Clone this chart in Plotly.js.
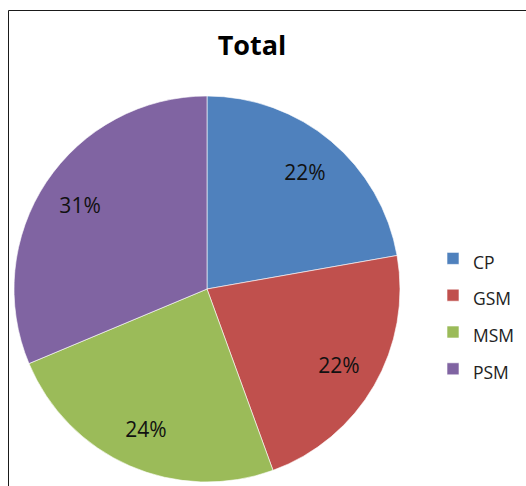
<!DOCTYPE html>
<html>
<head>
<meta charset="utf-8">
<script src="https://cdn.plot.ly/plotly-3.0.1.min.js"></script>
<style>
  html, body { margin: 0; padding: 0; background: #fff; overflow: hidden; }
  #chart { width: 526px; height: 486px; }
</style>
</head>
<body>
<div id="chart"></div>
<script>
// Data
const categories = ["CP", "GSM", "MSM", "PSM"];
const values = [22, 22, 24, 31];
const sliceColors = ["#4F81BD", "#C0504D", "#9BBB59", "#8064A2"];
const chartTitle = "Total";

const W = 526, H = 486;
const CX = 207, CY = 289, R = 193;
const pieDomain = {
  x: [(CX - R) / W, (CX + R) / W],
  y: [(H - CY - R) / H, (H - CY + R) / H]
};

// Filled slices with the legend
const slices = {
  type: "pie",
  labels: categories.map(c => '<span style="font-size:17.5px">' + c + '</span>'),
  values: values,
  sort: false,
  direction: "clockwise",
  rotation: 0,
  marker: { colors: sliceColors, line: { color: "#ffffff", width: 0.6 } },
  textinfo: "none",
  hoverinfo: "label+percent",
  domain: pieDomain
};

// Same data, transparent ring, so the percent labels sit toward the rim
const labelsRing = {
  type: "pie",
  labels: categories,
  values: values,
  sort: false,
  direction: "clockwise",
  rotation: 0,
  hole: 0.58,
  showlegend: false,
  marker: { colors: categories.map(() => "rgba(0,0,0,0)"), line: { width: 0 } },
  textinfo: "percent",
  texttemplate: "%{percent:.0%}",
  textposition: "inside",
  insidetextorientation: "horizontal",
  textfont: { family: "Open Sans", size: 21, color: "#111111" },
  hoverinfo: "skip",
  domain: pieDomain
};

const layout = {
  width: W,
  height: H,
  margin: { l: 0, r: 0, t: 0, b: 0 },
  paper_bgcolor: "#ffffff",
  plot_bgcolor: "#ffffff",
  title: {
    text: "<b>" + chartTitle + "</b>",
    font: { family: "Open Sans", size: 27, color: "#000000" },
    x: 252 / W,
    xanchor: "center",
    y: 1 - 46 / H,
    yanchor: "middle",
    yref: "container",
    xref: "container"
  },
  showlegend: true,
  legend: {
    x: 433 / W,
    xanchor: "left",
    y: 1 - 314 / H,
    yanchor: "middle",
    font: { family: "Open Sans", size: 26, color: "#222222" },
    bgcolor: "rgba(0,0,0,0)",
    borderwidth: 0
  },
  shapes: [{
    type: "rect",
    xref: "paper", yref: "paper",
    x0: 8.5 / W, x1: 1.1,
    y0: -0.1, y1: 1 - 10.5 / H,
    line: { color: "#1a1a1a", width: 1 },
    fillcolor: "rgba(0,0,0,0)",
    layer: "above"
  }]
};

Plotly.newPlot("chart", [slices, labelsRing], layout, { displayModeBar: false, staticPlot: true });
</script>
</body>
</html>
